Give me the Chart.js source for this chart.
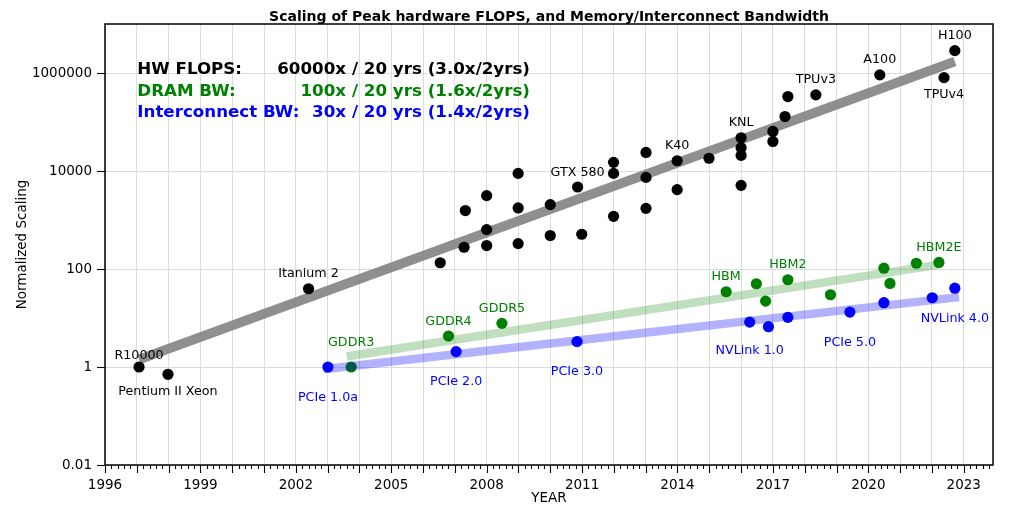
<!DOCTYPE html>
<html><head><meta charset="utf-8">
<script src="https://cdn.jsdelivr.net/npm/chart.js@4.4.1/dist/chart.umd.min.js"></script>
<style>html,body{margin:0;padding:0;background:#fff;}canvas{display:block;}</style>
</head><body>
<canvas id="c" width="1024" height="522" style="width:1024px;height:522px"></canvas>
<script>
// ---------------- DATA ----------------
const chartTitle = 'Scaling of Peak hardware FLOPS, and Memory/Interconnect Bandwidth';
const xAxisTitle = 'YEAR';
const yAxisTitle = 'Normalized Scaling';
const yTickValues = [0.01, 1, 100, 10000, 1000000];
const yTickLabels = ['0.01', '1', '100', '10000', '1000000'];
const xLabelYears = [1996, 1999, 2002, 2005, 2008, 2011, 2014, 2017, 2020, 2023];

const flopsYears = [1997.07, 1997.98, 2002.40, 2006.54, 2007.33, 2007.29, 2008.0, 2008.0, 2008.0,
  2008.99, 2008.99, 2008.99, 2010.0, 2010.0, 2010.86, 2010.99, 2011.99, 2011.99, 2011.99,
  2013.01, 2013.01, 2013.01, 2013.99, 2013.99, 2014.99, 2016.0, 2016.0, 2016.0, 2016.0,
  2017.0, 2017.0, 2017.38, 2017.47, 2018.35, 2020.36, 2022.38, 2022.72];
const flopsValues = [1.0, 0.71, 39.5, 134, 1560, 278, 3140, 637, 301,
  8930, 1760, 330, 2060, 482, 4720, 512, 15000, 8930, 1190,
  23900, 7410, 1730, 16200, 4160, 18200, 47700, 29800, 20800, 5090,
  64100, 40100, 129000, 331000, 358000, 915000, 805000, 2860000];
const flopsLabels = ['R10000', 'Pentium II Xeon', 'Itanium 2', '', '', '', '', '', '',
  '', '', '', '', '', 'GTX 580', '', '', '', '',
  '', '', '', 'K40', '', '', 'KNL', '', '', '',
  '', '', '', '', 'TPUv3', 'A100', 'TPUv4', 'H100'];

const dramYears = [2003.74, 2006.80, 2008.48, 2015.53, 2016.48, 2016.77, 2017.47, 2018.81, 2020.49, 2020.68, 2021.51, 2022.22];
const dramValues = [1.0, 4.28, 7.77, 34.3, 50, 22.1, 60.3, 29.8, 104, 50.7, 131, 136];
const dramLabels = ['GDDR3', 'GDDR4', 'GDDR5', 'HBM', '', '', 'HBM2', '', '', '', '', 'HBM2E'];

const icYears = [2003.01, 2007.04, 2010.84, 2016.27, 2016.86, 2017.47, 2019.42, 2020.49, 2022.01, 2022.72];
const icValues = [1.0, 2.06, 3.29, 8.25, 6.65, 10.3, 13.2, 20.5, 25.9, 40.6];
const icLabels = ['PCIe 1.0a', 'PCIe 2.0', 'PCIe 3.0', 'NVLink 1.0', '', '', 'PCIe 5.0', '', '', 'NVLink 4.0'];

const flopsTrendYears = [1997.07, 2022.72];
const flopsTrendValues = [1.42, 1710000];
const dramTrendYears = [2003.6, 2022.22];
const dramTrendValues = [1.64, 123];
const icTrendYears = [2002.87, 2022.85];
const icTrendValues = [0.9, 26.7];

const summaryNames = ['HW FLOPS:', 'DRAM BW:', 'Interconnect BW:'];
const summaryRates = ['60000x / 20 yrs (3.0x/2yrs)', '100x / 20 yrs (1.6x/2yrs)', '30x / 20 yrs (1.4x/2yrs)'];

// ---------------- STYLE ----------------
const FONT = "'DejaVu Sans', 'Liberation Sans', sans-serif";
const C_BLACK = '#000000', C_GREEN = '#008000', C_BLUE = '#0000ff';
const summaryColors = [C_BLACK, C_GREEN, C_BLUE];
const labelOffsets = { 'R10000': -13, 'Pentium II Xeon': 16.5, 'TPUv4': 16, 'GDDR3': -26, 'NVLink 1.0': 27 };

const pts = (xs, ys) => xs.map((x, i) => ({ x: x, y: ys[i] }));

const annot = {
  id: 'annot',
  afterDatasetsDraw(chart) {
    const { ctx, chartArea: a } = chart;
    ctx.save();
    ctx.strokeStyle = '#000';
    ctx.lineWidth = 1.5;
    ctx.strokeRect(a.left, a.top, a.right - a.left, a.bottom - a.top);
    ctx.restore();
  },
  afterDraw(chart) {
    const { ctx, chartArea: a, scales } = chart;
    const xs = scales.x, ys = scales.y;
    ctx.save();
    // tick marks
    ctx.strokeStyle = '#000';
    ctx.lineWidth = 1.1;
    xs.ticks.forEach(t => {
      const px = Math.round(xs.getPixelForValue(t.value)) + 0.5;
      const isYr = Math.abs(t.value - Math.round(t.value)) < 1e-6;
      const len = isYr ? 8 : 4;
      ctx.beginPath(); ctx.moveTo(px, a.bottom); ctx.lineTo(px, a.bottom + len); ctx.stroke();
    });
    ys.ticks.forEach(t => {
      const py = Math.round(ys.getPixelForValue(t.value)) + 0.5;
      ctx.beginPath(); ctx.moveTo(a.left, py); ctx.lineTo(a.left - 8, py); ctx.stroke();
    });
    // point labels
    const drawLabels = (xsArr, vsArr, labels, color, defOff) => {
      ctx.font = '12.7px ' + FONT;
      ctx.fillStyle = color;
      ctx.textAlign = 'center';
      ctx.textBaseline = 'alphabetic';
      labels.forEach((lab, i) => {
        if (!lab) return;
        const px = xs.getPixelForValue(xsArr[i]);
        const py = ys.getPixelForValue(vsArr[i]);
        const off = (lab in labelOffsets) ? labelOffsets[lab] : defOff;
        ctx.fillText(lab, px, py + off + 4.6);
      });
    };
    drawLabels(flopsYears, flopsValues, flopsLabels, C_BLACK, -16);
    drawLabels(dramYears, dramValues, dramLabels, C_GREEN, -16);
    drawLabels(icYears, icValues, icLabels, C_BLUE, 29);
    // summary
    ctx.font = 'bold 16.7px ' + FONT;
    const sy = [68.3, 90, 111];
    summaryNames.forEach((n, i) => {
      ctx.fillStyle = summaryColors[i];
      ctx.textAlign = 'left';
      ctx.fillText(n, 137.3, sy[i] + 6);
      ctx.textAlign = 'right';
      ctx.fillText(summaryRates[i], 530, sy[i] + 6);
    });
    // title
    ctx.fillStyle = '#000';
    ctx.font = 'bold 14px ' + FONT;
    ctx.textAlign = 'center';
    ctx.fillText(chartTitle, (a.left + a.right) / 2, 21);
    // axis titles
    ctx.font = '13.5px ' + FONT;
    ctx.fillText(xAxisTitle, (a.left + a.right) / 2, 502);
    ctx.save();
    ctx.translate(26, (a.top + a.bottom) / 2);
    ctx.rotate(-Math.PI / 2);
    ctx.fillText(yAxisTitle, 0, 0);
    ctx.restore();
    ctx.restore();
  }
};

const isYear = v => Math.abs(v - Math.round(v)) < 1e-6;

new Chart(document.getElementById('c'), {
  type: 'scatter',
  data: {
    datasets: [
      { type: 'line', label: 'FLOPS trend', data: pts(flopsTrendYears, flopsTrendValues),
        borderColor: 'rgba(128,128,128,0.88)', borderWidth: 9.5, pointRadius: 0, borderCapStyle: 'butt', order: 6 },
      { label: 'HW FLOPS', data: pts(flopsYears, flopsValues), backgroundColor: C_BLACK,
        borderWidth: 0, pointRadius: 5.6, order: 5 },
      { type: 'line', label: 'DRAM trend', data: pts(dramTrendYears, dramTrendValues),
        borderColor: 'rgba(0,128,0,0.25)', borderWidth: 8.5, pointRadius: 0, borderCapStyle: 'butt', order: 4 },
      { label: 'DRAM BW', data: pts(dramYears, dramValues), backgroundColor: C_GREEN,
        borderWidth: 0, pointRadius: 5.6, order: 3 },
      { type: 'line', label: 'Interconnect trend', data: pts(icTrendYears, icTrendValues),
        borderColor: 'rgba(0,0,255,0.3)', borderWidth: 8.5, pointRadius: 0, borderCapStyle: 'butt', order: 2 },
      { label: 'Interconnect BW', data: pts(icYears, icValues), backgroundColor: C_BLUE,
        borderWidth: 0, pointRadius: 5.6, order: 1 }
    ]
  },
  options: {
    responsive: false,
    animation: false,
    devicePixelRatio: 1,
    layout: { padding: { top: 24, right: 31, left: 0, bottom: 0 } },
    plugins: { legend: { display: false }, tooltip: { enabled: false }, title: { display: false } },
    scales: {
      x: {
        type: 'linear', min: 1996, max: 2023.92,
        afterBuildTicks(scale) {
          const t = [];
          for (let i = 0; i <= 139; i++) t.push({ value: 1996 + i / 5 });
          scale.ticks = t;
        },
        afterFit(scale) { scale.height = 57; },
        ticks: {
          autoSkip: false, maxRotation: 0, minRotation: 0, padding: 12, color: '#000',
          font: { family: FONT, size: 13.5 },
          callback: v => { const r = Math.round(v); return (isYear(v) && xLabelYears.includes(r)) ? String(r) : ''; }
        },
        grid: { drawTicks: false, lineWidth: 1, color: c => (c.tick && isYear(c.tick.value)) ? '#dcdcdc' : 'rgba(0,0,0,0)' },
        border: { display: false }
      },
      y: {
        type: 'logarithmic', min: 0.01, max: 10000000,
        afterBuildTicks(scale) { scale.ticks = yTickValues.map(v => ({ value: v, major: true })); },
        afterFit(scale) { scale.width = 105; },
        ticks: {
          autoSkip: false, padding: 13, color: '#000',
          font: { family: FONT, size: 13.5 },
          callback: (v) => { const k = yTickValues.findIndex(t => Math.abs(Math.log10(t) - Math.log10(v)) < 1e-6); return k >= 0 ? yTickLabels[k] : ''; }
        },
        grid: { drawTicks: false, lineWidth: 1, color: '#dcdcdc' },
        border: { display: false }
      }
    }
  },
  plugins: [annot]
});
</script>
</body></html>
